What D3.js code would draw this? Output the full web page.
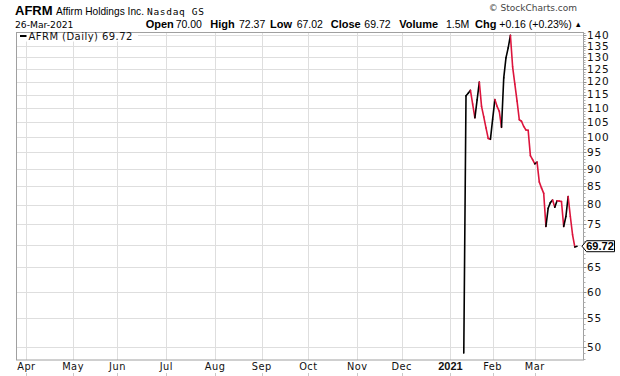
<!DOCTYPE html>
<html><head><meta charset="utf-8">
<script src="https://cdn.jsdelivr.net/npm/d3@7"></script>
<style>html,body{margin:0;padding:0;background:#fff;}svg{display:block;}</style>
</head><body><svg id="c" width="620" height="376"></svg>
<script>
// ---- data ----
const ticker = "AFRM";
const companyName = "Affirm Holdings Inc.";
const exchange = "Nasdaq GS";
const asOfDate = "26-Mar-2021";
const legendText = "AFRM (Daily) 69.72";
const headerLabels = ["Open", "High", "Low", "Close", "Volume", "Chg"];
const headerValues = ["70.00", "72.37", "67.02", "69.72", "1.5M", "+0.16 (+0.23%)"];
const lastPrice = 69.72;
// month gridlines: label and trading-session index (session 0 = first session of Apr 2020)
const monthLabels = ["Apr", "May", "Jun", "Jul", "Aug", "Sep", "Oct", "Nov", "Dec", "2021", "Feb", "Mar"];
const monthSessions = [0, 21, 41, 63, 85, 106, 127, 149, 169, 191, 210, 229];
// daily closes, starting at session 197 (12-Jan-2021) through 26-Mar-2021
const firstSession = 197;
const closes = [
  49.0, 114.5, 115.5, 116.6, 111.4, 106.5, 113.0, 119.8, 110.6, 106.8,
  103.0, 99.5, 99.2, 106.0, 113.1, 110.6, 108.8, 103.2, 121.5, 129.8,
  134.1, 139.8, 126.0, 119.0, 112.5, 105.8, 105.3, 103.5, 102.3, 102.2,
  94.0, 92.8, 91.5, 92.0, 86.2, 84.5, 83.0, 74.4, 79.0, 80.5,
  81.2, 79.3, 81.0, 80.9, 80.8, 74.4, 76.9, 82.1, 76.9, 72.4,
  69.56, 69.72
];
const yTicks = [50, 55, 60, 65, 70, 75, 80, 85, 90, 95, 100, 105, 110, 115, 120, 125, 130, 135, 140];
const xDomain = [-4.7, 250.7];
const yDomain = [47.9, 141.1];

// ---- layout ----
const L = 16, R = 583, T = 32.5, B = 360;
const svg = d3.select("#c");
const x = d3.scaleLinear().domain(xDomain).range([L, R]);
const y = d3.scaleLog().domain(yDomain).range([B, T]);
const crisp = v => Math.round(v) + 0.5;
const gridColor = "#dedede", frameColor = "#a0a0a0";
const axisFont = "DejaVu Sans, Verdana, sans-serif";
const sansFont = "Liberation Sans, Arial, sans-serif";

svg.append("rect").attr("width", 620).attr("height", 376).attr("fill", "#fff");

// horizontal gridlines
svg.append("g").selectAll("line").data(yTicks).join("line")
  .attr("x1", L).attr("x2", R)
  .attr("y1", d => crisp(y(d))).attr("y2", d => crisp(y(d)))
  .attr("stroke", gridColor).attr("stroke-width", 1);
// vertical gridlines
svg.append("g").selectAll("line").data(monthSessions).join("line")
  .attr("x1", d => crisp(x(d))).attr("x2", d => crisp(x(d)))
  .attr("y1", T).attr("y2", B)
  .attr("stroke", gridColor).attr("stroke-width", 1);

// frame
svg.append("rect").attr("x", L + 0.5).attr("y", T).attr("width", R - L).attr("height", B - T)
  .attr("fill", "none").attr("stroke", frameColor).attr("stroke-width", 1);

// right axis minor ticks
const minor = d3.range(48, 142).filter(v => v % 5 !== 0);
svg.append("g").selectAll("line").data(minor).join("line")
  .attr("x1", R + 0.5).attr("x2", R + 2.5)
  .attr("y1", d => crisp(y(d))).attr("y2", d => crisp(y(d)))
  .attr("stroke", "#b0b0b0");
svg.append("g").selectAll("line").data(yTicks).join("line")
  .attr("x1", R + 0.5).attr("x2", R + 3.5)
  .attr("y1", d => crisp(y(d))).attr("y2", d => crisp(y(d)))
  .attr("stroke", "#909090");
// right axis labels (the one under the price tag is hidden, as in the original)
const py = y(lastPrice);
svg.append("g").selectAll("text").data(yTicks.filter(v => Math.abs(y(v) - py) > 9)).join("text")
  .attr("x", 587).attr("y", d => y(d) + 3.8)
  .attr("font-family", axisFont).attr("font-size", 10.5).attr("letter-spacing", 0.8)
  .attr("fill", "#111").text(d => d);

// bottom labels
svg.append("g").selectAll("text").data(monthLabels).join("text")
  .attr("x", (d, i) => x(monthSessions[i])).attr("y", 370)
  .attr("text-anchor", "middle")
  .attr("font-family", d => d === "2021" ? sansFont : axisFont)
  .attr("font-size", d => d === "2021" ? 11 : 9.8)
  .attr("font-weight", d => d === "2021" ? "bold" : "normal")
  .attr("letter-spacing", d => d === "2021" ? 0 : 0.5)
  .attr("fill", "#111").text(d => d);
svg.append("g").selectAll("line").data(monthSessions).join("line")
  .attr("x1", d => crisp(x(d))).attr("x2", d => crisp(x(d)))
  .attr("y1", 373).attr("y2", 376).attr("stroke", "#c8c8c8");

// price line, colored segment by segment
const pts = closes.map((v, i) => [firstSession + i, v]);
const line = d3.line().x(d => x(d[0])).y(d => y(d[1]));
svg.append("g").selectAll("path").data(d3.pairs(pts)).join("path")
  .attr("d", d => line(d))
  .attr("fill", "none")
  .attr("stroke", d => d[1][1] >= d[0][1] ? "#000" : "#dc143c")
  .attr("stroke-width", 1.6).attr("stroke-linecap", "round").attr("stroke-linejoin", "round");

// price tag
svg.append("path")
  .attr("d", `M${R - 1},${py} L${R + 3.5},${py - 5.5} L614.5,${py - 5.5} L614.5,${py + 5.5} L${R + 3.5},${py + 5.5} Z`)
  .attr("fill", "#fff").attr("stroke", "#000").attr("stroke-width", 1);
svg.append("text").attr("x", 600).attr("y", py + 4).attr("text-anchor", "middle")
  .attr("font-family", sansFont).attr("font-weight", "bold")
  .attr("font-size", 11).attr("fill", "#000").text(lastPrice.toFixed(2));

// legend
svg.append("rect").attr("x", L + 1).attr("y", T + 0.5).attr("width", 121).attr("height", 8.5).attr("fill", "#fff");
svg.append("line").attr("x1", 20).attr("x2", 26.5).attr("y1", 36).attr("y2", 36)
  .attr("stroke", "#000").attr("stroke-width", 2);
svg.append("text").attr("x", 28.5).attr("y", 40)
  .attr("font-family", axisFont).attr("font-size", 10).attr("letter-spacing", 0.45)
  .attr("fill", "#111").text(legendText);

// header
svg.append("text").attr("x", 15).attr("y", 15)
  .attr("font-family", sansFont).attr("font-weight", "bold")
  .attr("font-size", 13).attr("textLength", 37.5).attr("lengthAdjust", "spacingAndGlyphs")
  .attr("fill", "#000").text(ticker);
svg.append("text").attr("x", 56).attr("y", 15)
  .attr("font-family", sansFont).attr("font-size", 10.3)
  .attr("textLength", 88).attr("lengthAdjust", "spacingAndGlyphs")
  .attr("fill", "#000").text(companyName);
svg.append("text").attr("x", 147).attr("y", 15)
  .attr("font-family", "DejaVu Sans Mono, monospace").attr("font-size", 9.5)
  .attr("textLength", 57).attr("lengthAdjust", "spacing")
  .attr("fill", "#000").text(exchange);
svg.append("text").attr("x", 15).attr("y", 27.5)
  .attr("font-family", axisFont).attr("font-size", 9.2)
  .attr("fill", "#000").text(asOfDate);

// OHLC line: label / value start positions as in the original
const labelX = [145.7, 210.3, 270, 330.7, 399.3, 475];
const valueX = [175.7, 239, 296.7, 364.3, 446, 499.3];
const ohlc = svg.append("g").attr("font-family", sansFont).attr("fill", "#000");
headerLabels.forEach((lab, i) => {
  ohlc.append("text").attr("x", labelX[i]).attr("y", 27.5).attr("font-size", 11)
    .attr("font-weight", "bold").text(lab);
  ohlc.append("text").attr("x", valueX[i]).attr("y", 27.5).attr("font-size", 10.5)
    .text(headerValues[i]);
});
ohlc.append("text").attr("x", 574.5).attr("y", 26.5).attr("font-size", 7.5).text("▲");

svg.append("text").attr("x", 577).attr("y", 10.5).attr("text-anchor", "end")
  .attr("font-family", axisFont).attr("font-size", 9).attr("fill", "#444")
  .text("© StockCharts.com");
</script></body></html>
